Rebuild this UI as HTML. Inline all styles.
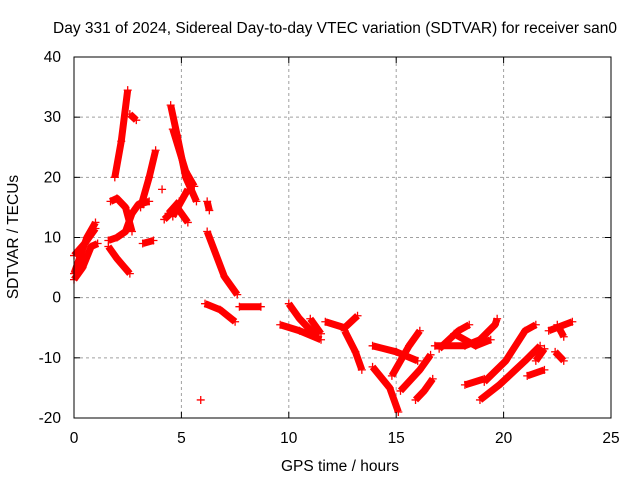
<!DOCTYPE html>
<html><head><meta charset="utf-8"><style>
body{margin:0;background:#fff;width:640px;height:480px;overflow:hidden}
svg text{font-family:"Liberation Sans",sans-serif;font-size:15.5px;fill:#000}
</style></head><body>
<svg id="chart" width="640" height="480">
<text x="335" y="33" text-anchor="middle">Day 331 of 2024, Sidereal Day-to-day VTEC variation (SDTVAR) for receiver san0</text>
<text x="340" y="471" text-anchor="middle">GPS time / hours</text>
<text transform="translate(18,237) rotate(-90)" text-anchor="middle">SDTVAR / TECUs</text>
<g id="grid"></g><g id="marks"></g><g id="axes"></g>
</svg>
<script>
const xTicks=[0,5,10,15,20,25];
const yTicks=[-20,-10,0,10,20,30,40];
const tracks=[
[[0,4],[0.3,7],[0.6,10],[1.0,12.5]],
[[0,3],[0.4,5],[0.8,8.5],[1.1,9]],
[[0,7],[0.5,9],[1.0,11.5]],
[[1.6,8.5],[2.0,6.5],[2.6,4]],
[[1.9,20],[2.2,26],[2.5,34.5]],
[[2.6,30.5],[2.9,29.5]],
[[1.6,9.5],[2.0,10],[2.4,11],[2.7,14],[3.0,15.5],[3.5,16]],
[[1.7,16],[2.0,16.5],[2.4,15],[2.7,11]],
[[3.2,9],[3.7,9.5]],
[[3.1,15],[3.5,20],[3.8,24.5]],
[[4.1,18]],
[[4.4,14],[4.9,16]],
[[4.5,32],[4.8,27],[5.2,20],[5.7,16]],
[[4.6,28],[5.2,21],[5.6,18.5]],
[[4.2,13],[4.8,15],[5.3,12.5]],
[[4.6,13.5],[5.3,18]],
[[6.2,16],[6.3,14.5]],
[[6.2,11],[7.0,3.5],[7.6,0.5]],
[[6.1,-1],[6.8,-2],[7.5,-4]],
[[7.7,-1.5],[8.7,-1.5]],
[[9.6,-4.5],[10.5,-5.5],[11.5,-7]],
[[10,-1],[10.5,-3.5],[11.3,-6.5]],
[[11,-3.5],[11.5,-6]],
[[11.7,-4],[12.6,-5],[13.2,-3]],
[[12.6,-5.5],[13.1,-9],[13.4,-12]],
[[13.9,-8],[15,-9],[16,-10.5]],
[[13.9,-11.5],[14.7,-15],[15.1,-19]],
[[14.8,-13],[15.6,-8],[16.1,-5.5]],
[[15.2,-15.5],[16.1,-12],[16.6,-9.5]],
[[15.9,-17],[16.3,-15.5],[16.7,-13.5]],
[[16.8,-8],[18.2,-8],[18.9,-7]],
[[17,-8.5],[17.9,-5.5],[18.4,-4.5]],
[[17.7,-6],[18.7,-8],[19.4,-7]],
[[18.2,-14.5],[19.1,-13.5]],
[[18.9,-7],[19.6,-4.5],[19.7,-3.5]],
[[19.1,-14],[20.1,-10.5],[21,-5.5],[21.5,-4.5]],
[[18.9,-17],[19.8,-14.5],[21,-10.5],[21.7,-8]],
[[21.1,-13],[21.9,-12]],
[[21.5,-10.5],[21.9,-8.5]],
[[22.1,-5.5],[23.2,-4]],
[[22.4,-9],[22.8,-10.5]],
[[22.5,-4.5],[22.8,-6.5]],
[[5.9,-17]]
];
const L=74,R=611,T=57,B=418;
const xs=v=>L+(v-0)/25*(R-L);
const ys=v=>B-(v+20)/60*(B-T);
const NS="http://www.w3.org/2000/svg";
function mk(tag,attrs,parent){const e=document.createElementNS(NS,tag);for(const k in attrs)e.setAttribute(k,attrs[k]);parent.appendChild(e);return e;}
const grid=document.getElementById('grid'),axes=document.getElementById('axes'),marks=document.getElementById('marks');
xTicks.forEach(t=>{
 const x=xs(t);
 if(t>0&&t<25){const g=mk('line',{x1:x,x2:x,y1:T,y2:B,stroke:'#a0a0a0','stroke-dasharray':'3,3'},grid);
 
 }
 const tk=mk('line',{x1:x,x2:x,y1:B,y2:B-6,stroke:'#000'},axes);
 
 
 mk('line',{x1:x,x2:x,y1:T,y2:T+6,stroke:'#000'},axes);
 const lb=mk('text',{x:x,y:B+25,'text-anchor':'middle'},axes);lb.textContent=t;
 
 
});
yTicks.forEach(t=>{
 const y=ys(t);
 if(t>-20&&t<40){const g=mk('line',{x1:L,x2:R,y1:y,y2:y,stroke:'#a0a0a0','stroke-dasharray':'3,3'},grid);
 
 }
 const tk=mk('line',{x1:L,x2:L+6,y1:y,y2:y,stroke:'#000'},axes);
 
 
 mk('line',{x1:R,x2:R-6,y1:y,y2:y,stroke:'#000'},axes);
 const lb=mk('text',{x:L-13,y:y+5,'text-anchor':'end'},axes);lb.textContent=t;
 
 
});
const fr=mk('rect',{x:L,y:T,width:R-L,height:B-T,fill:'none',stroke:'#000'},axes);


tracks.forEach(tr=>{
 const g=mk('g',{},marks);
 
 
 if(tr.length>1){mk('polyline',{points:tr.map(p=>xs(p[0])+','+ys(p[1])).join(' '),fill:'none',stroke:'#f00','stroke-width':7,'stroke-linejoin':'round'},g);}
 tr.forEach(p=>{const x=xs(p[0]),y=ys(p[1]);
  const m=mk('path',{d:`M${x-4},${y}H${x+4}M${x},${y-4}V${y+4}`,stroke:'#f00','stroke-width':1.3},g);
  
  
 });
});
</script>
</body></html>
